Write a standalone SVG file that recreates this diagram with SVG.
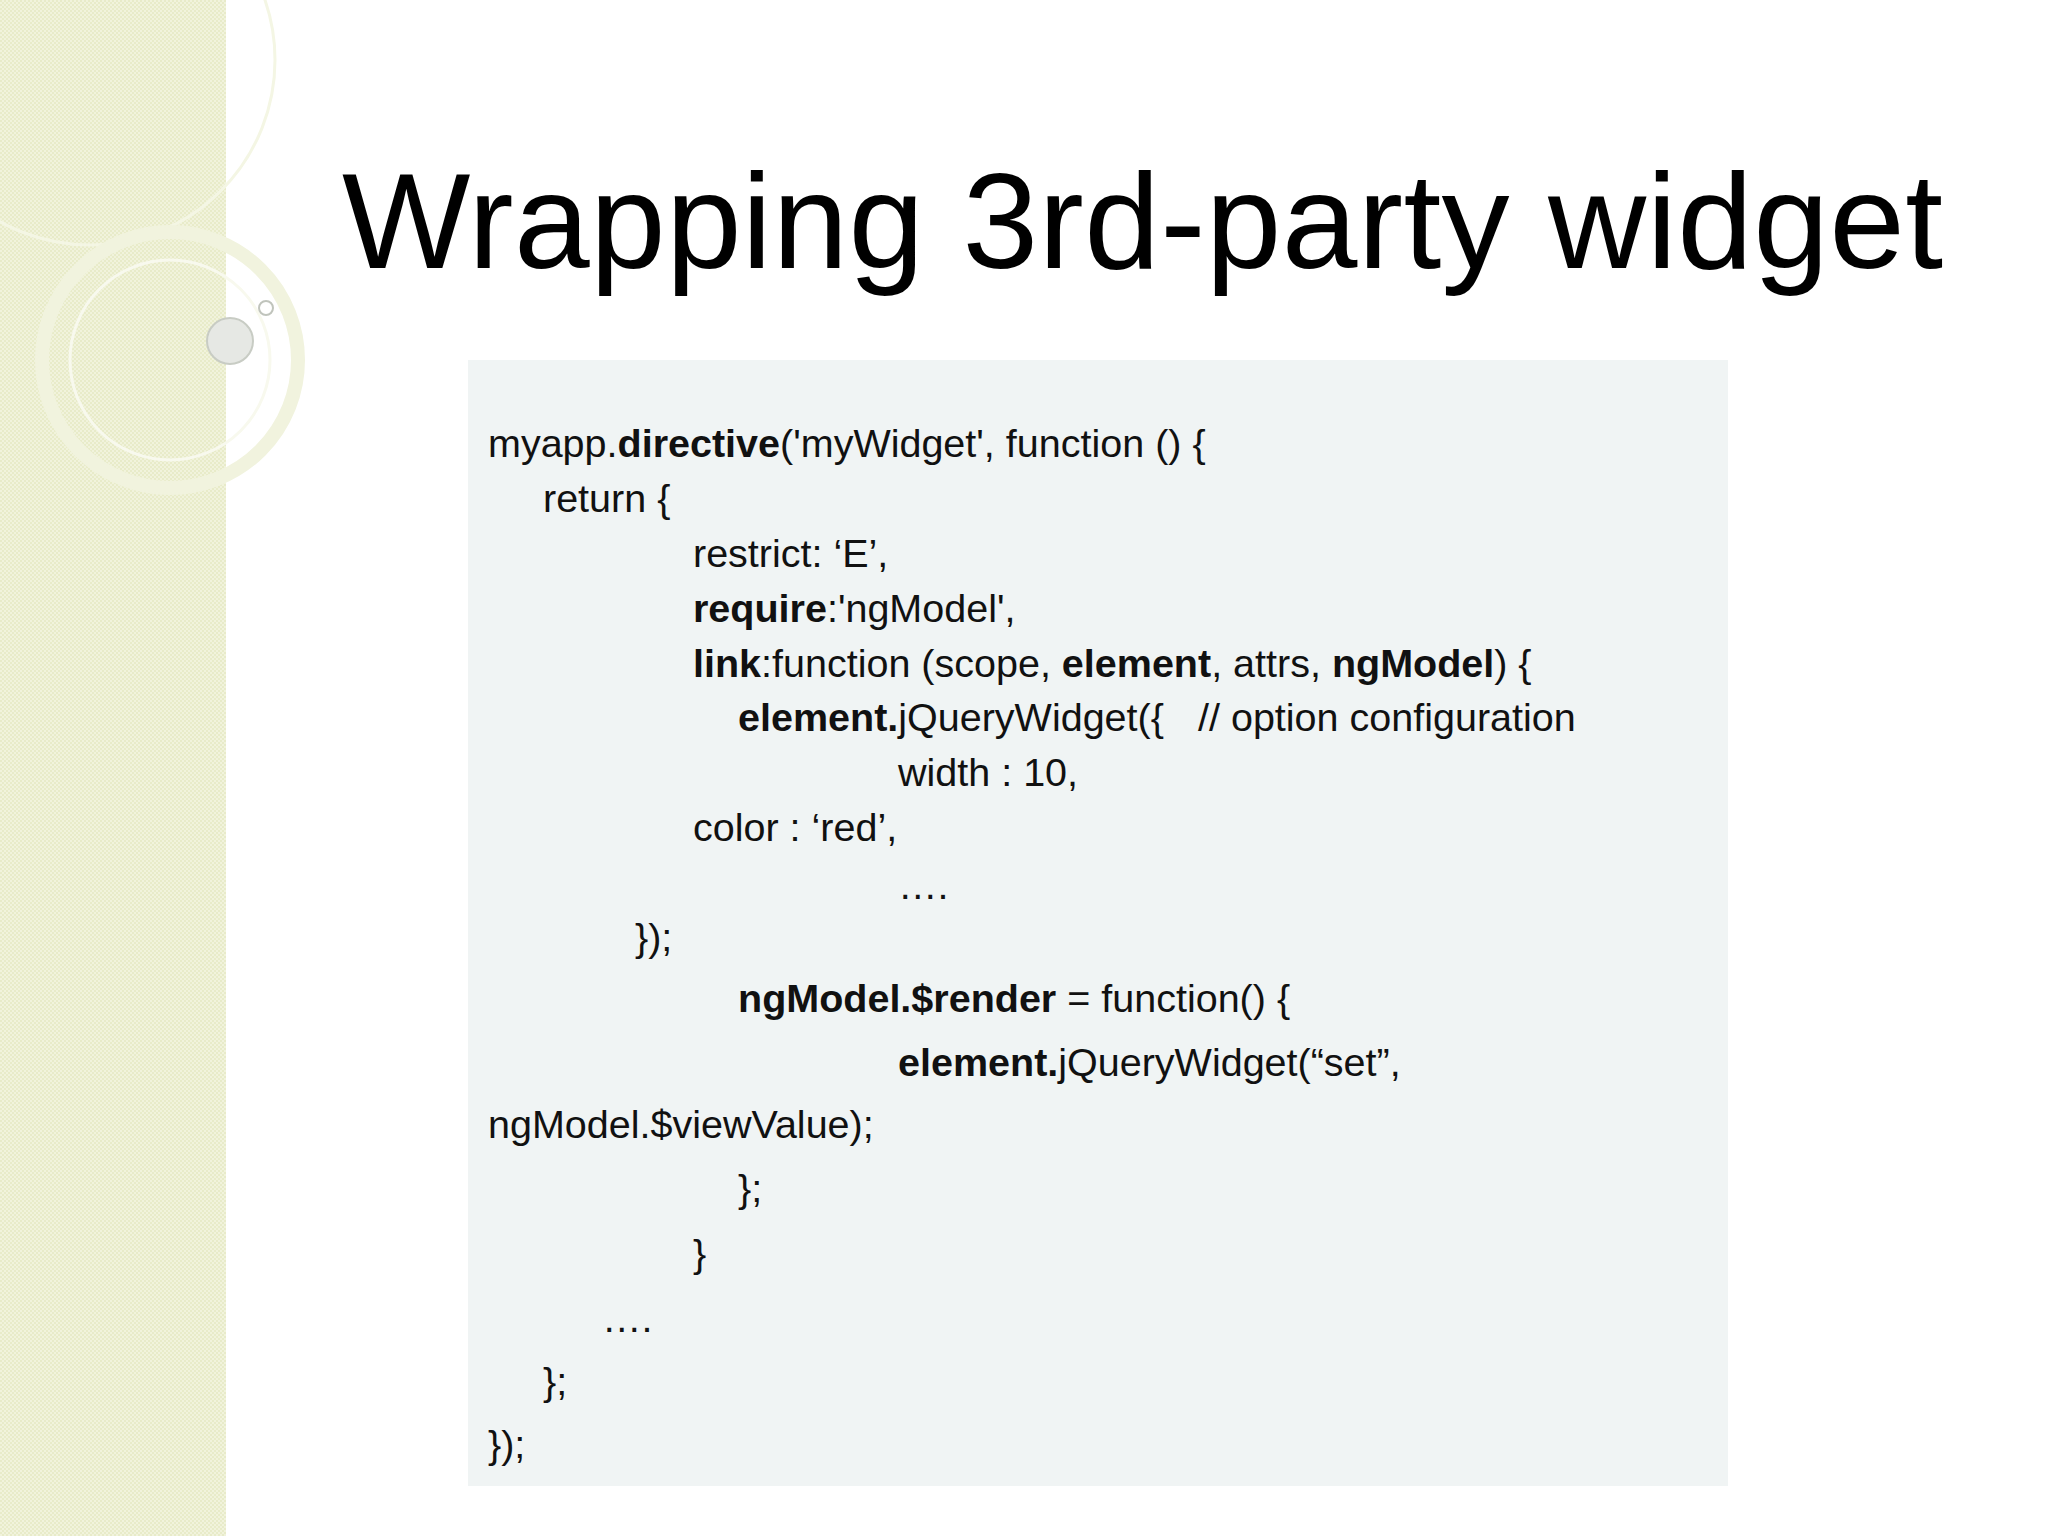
<svg xmlns="http://www.w3.org/2000/svg" width="2048" height="1536" viewBox="0 0 2048 1536">
<defs>
<pattern id="chk" width="4" height="4" patternUnits="userSpaceOnUse"><rect width="4" height="4" fill="#f1f3dc"/><rect width="2" height="2" fill="#e8ebc9"/><rect x="2" y="2" width="2" height="2" fill="#e8ebc9"/></pattern>
</defs>
<style>
.c{font-family:"Liberation Sans",Arial,sans-serif;font-size:39.5px;fill:#111}
.b{font-weight:bold}
</style>
<rect width="2048" height="1536" fill="#fff"/>
<g id="strip">
<rect width="226" height="1536" fill="url(#chk)"/>
<circle cx="90" cy="60" r="185" fill="none" stroke="#f4f6e4" stroke-width="3"/>
<circle cx="170" cy="360" r="128" fill="none" stroke="#f1f3de" stroke-width="14"/>
<circle cx="170" cy="360" r="100" fill="none" stroke="#f8f9ee" stroke-width="3"/>
<circle cx="230" cy="341" r="23" fill="#e6e8e4" stroke="#c8ccc4" stroke-width="2"/>
<circle cx="266" cy="308" r="7" fill="#fff" stroke="#c0c4bc" stroke-width="2"/>
</g>
<text x="342" y="268" font-family="Liberation Sans,Arial,sans-serif" font-size="136" textLength="1601" fill="#000">Wrapping 3rd-party widget</text>
<g id="code">
<rect x="468" y="360" width="1260" height="1126" fill="#f0f4f4"/>
<text class="c" x="488" y="457">myapp.<tspan class="b">directive</tspan>('myWidget', function () {</text>
<text class="c" x="543" y="512">return {</text>
<text class="c" x="693" y="567">restrict: ‘E’,</text>
<text class="c" x="693" y="622"><tspan class="b">require</tspan>:'ngModel',</text>
<text class="c" x="693" y="677"><tspan class="b">link</tspan>:function (scope, <tspan class="b">element</tspan>, attrs, <tspan class="b">ngModel</tspan>) {</text>
<text class="c" x="738" y="731"><tspan class="b">element.</tspan>jQueryWidget({<tspan x="1198">// option configuration</tspan></text>
<text class="c" x="898" y="786">width : 10,</text>
<text class="c" x="693" y="841">color : ‘red’,</text>
<text class="c" x="898" y="899">….</text>
<text class="c" x="635" y="951">});</text>
<text class="c" x="738" y="1012"><tspan class="b">ngModel.$render</tspan> = function() {</text>
<text class="c" x="898" y="1076"><tspan class="b">element.</tspan>jQueryWidget(“set”,</text>
<text class="c" x="488" y="1138">ngModel.$viewValue);</text>
<text class="c" x="738" y="1202">};</text>
<text class="c" x="693" y="1267">}</text>
<text class="c" x="602" y="1332">….</text>
<text class="c" x="543" y="1395">};</text>
<text class="c" x="488" y="1458">});</text>
</g>
</svg>
